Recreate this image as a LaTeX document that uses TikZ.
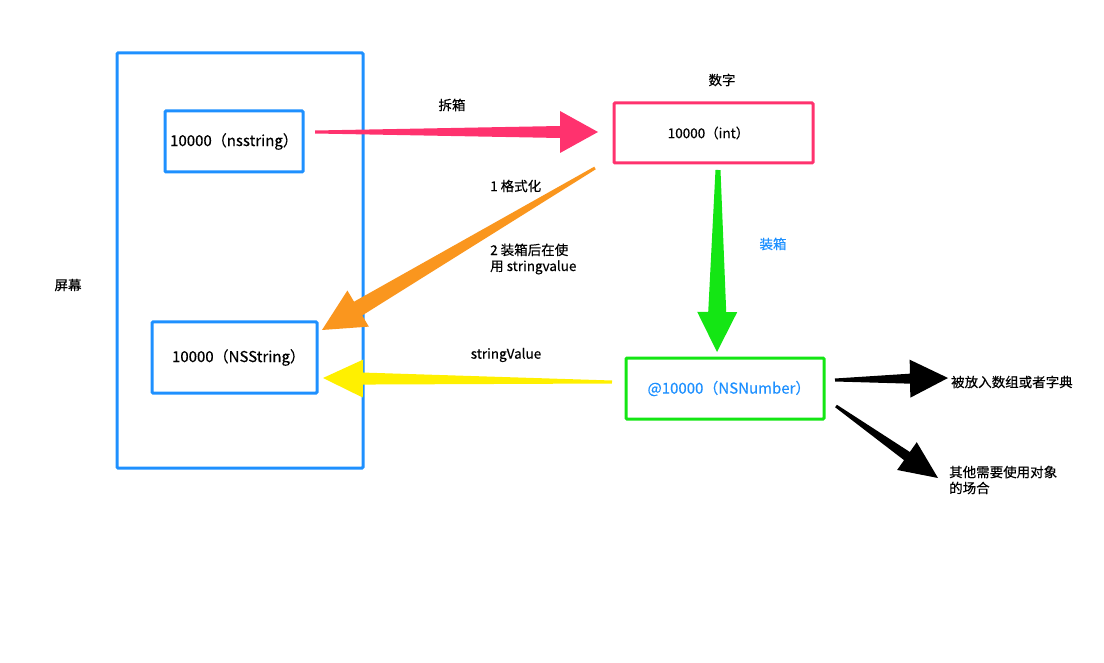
\documentclass[tikz,border=0pt]{standalone}
\usepackage{fontspec}
\setmainfont[FakeBold=0.35]{Noto Sans CJK SC}
\usetikzlibrary{calc}
\definecolor{myblue}{RGB}{30,144,255}
\definecolor{mypink}{RGB}{255,50,110}
\definecolor{mygreen}{RGB}{20,230,20}
\definecolor{myorange}{RGB}{250,150,30}
\definecolor{myyellow}{RGB}{255,240,0}
\newcommand\fatarrow[7]{%
  \coordinate (fb) at ($(#3)!#4!(#2)$);
  \fill[#1] ($(#2)!#6!90:(#3)$) -- ($(fb)!#7!90:(#3)$) -- ($(fb)!#5!90:(#3)$) -- (#3)
    -- ($(fb)!#5!-90:(#3)$) -- ($(fb)!#7!-90:(#3)$) -- ($(#2)!#6!-90:(#3)$) -- cycle;}
\begin{document}
\begin{tikzpicture}[x=1pt,y=-1pt,
  box/.style={draw,line width=3pt,rounded corners=1pt,inner sep=0pt,font=\fontsize{15}{18}\selectfont},
  lbl/.style={inner sep=0pt,font=\fontsize{13.5}{16}\selectfont},
  lbll/.style={lbl,anchor=west,align=left}]
\useasboundingbox (0,0) rectangle (1104,663);
\node[box,myblue,minimum width=246pt,minimum height=415pt] (screen) at (240,260.5) {};
\node[box,myblue,text=black,minimum width=138pt,minimum height=61pt] (nsstr) at (234,141.5) {10000（nsstring）};
\node[box,myblue,text=black,minimum width=165pt,minimum height=71pt] (NSStr) at (234.5,357.5) {\kern8pt 10000（NSString）};
\node[box,mypink,text=black,minimum width=199pt,minimum height=60pt,font=\fontsize{13.5}{16}\selectfont] (int) at (713.5,133) {10000（int）\kern10pt};
\node[box,mygreen,text=myblue,minimum width=198pt,minimum height=61pt] (num) at (725,388.5) {\kern8pt\raisebox{-3.5pt}{@10000（NSNumber）}};
\node[lbl] (pm) at (68,285) {屏幕};
\node[lbl] (sz) at (722,80) {数字};
\node[lbl] (cx) at (452,105) {拆箱};
\node[lbll] (gsh) at (490,186) {1 格式化};
\node[lbll] (zx2) at (490,259) {2 装箱后在使\\用 stringvalue};
\node[lbl] (sv) at (506,355) {stringValue};
\node[lbl,text=myblue] (zx) at (773,244) {装箱};
\node[lbll] (arr) at (951,382) {被放入数组或者字典};
\node[lbll] (oth) at (949,480) {其他需要使用对象\\的场合};
% arrow end points
\coordinate (p1) at (315,132); \coordinate (p2) at (598,132);
\coordinate (o1) at (595,168); \coordinate (o2) at (322,330);
\coordinate (y1) at (612,382); \coordinate (y2) at (323,378);
\coordinate (g1) at (718,170); \coordinate (g2) at (717,352);
\coordinate (b1) at (835,380); \coordinate (b2) at (948,378);
\coordinate (c1) at (836,406); \coordinate (c2) at (938,478);
\fatarrow{mypink}{p1}{p2}{38pt}{21pt}{1.5pt}{6pt}
\fatarrow{myorange}{o1}{o2}{42pt}{21pt}{1.5pt}{8pt}
\fatarrow{myyellow}{y1}{y2}{40pt}{19pt}{1.5pt}{6pt}
\fatarrow{mygreen}{g1}{g2}{40pt}{20pt}{2.5pt}{9pt}
\fatarrow{black}{b1}{b2}{38pt}{19pt}{1.5pt}{5pt}
\fatarrow{black}{c1}{c2}{38pt}{17pt}{1.5pt}{5pt}
\end{tikzpicture}
\end{document}
